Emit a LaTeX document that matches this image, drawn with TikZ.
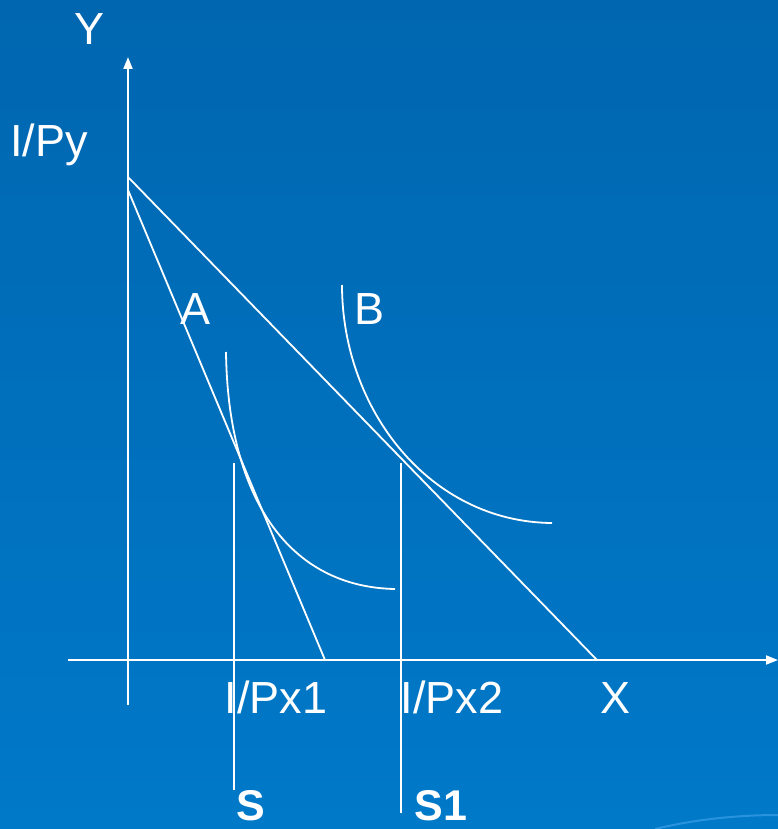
\documentclass[tikz,border=0pt]{standalone}
\usepackage{fontspec}
\setmainfont{Liberation Sans}
\usetikzlibrary{arrows.meta, positioning, calc}
\definecolor{slTop}{HTML}{0066B0}
\definecolor{slBot}{HTML}{0079C9}
\definecolor{slArc}{HTML}{2A93DE}
\tikzset{
  axis/.style={draw=white, line width=1.8pt, -{Triangle[length=12pt, width=9pt]}},
  budget/.style={draw=white, line width=1.8pt},
  icurve/.style={draw=white, line width=1.8pt},
  guide/.style={draw=white, line width=1.8pt},
  lbl/.style={text=white, font=\fontsize{45}{50}\selectfont, inner sep=0pt, anchor=base},
  blbl/.style={lbl, font=\fontsize{43}{48}\selectfont\bfseries},
}
\begin{document}
\begin{tikzpicture}[x=1pt, y=-1pt]
  % slide background
  \useasboundingbox (0,0) rectangle (778,829);
  \shade[top color=slTop, bottom color=slBot] (0,0) rectangle (778,829);
  \draw[slArc, line width=2pt] (655,829) .. controls (700,818) and (745,815) .. (778,815);

  % axes
  \coordinate (ybot) at (128,705);
  \coordinate (ytop) at (128,57);
  \coordinate (xleft) at (68,660);
  \coordinate (xright) at (778,660);
  \draw[axis] (ybot) -- (ytop);
  \draw[axis] (xleft) -- (xright);

  % budget lines
  \coordinate (py1) at (128,177);
  \coordinate (py2) at (128,190);
  \coordinate (px2) at (597,660);
  \coordinate (px1) at (325,660);
  \draw[budget] (py1) -- (px2);
  \draw[budget] (py2) -- (px1);

  % indifference curves
  \coordinate (a0) at (226,352);
  \coordinate (a1) at (395,589);
  \coordinate (b0) at (342,285);
  \coordinate (b1) at (552,523);
  \draw[icurve] (a0) .. controls (228,500) and (290,587) .. (a1);
  \draw[icurve] (b0) .. controls (342,410) and (430,522) .. (b1);

  % quantity guides
  \coordinate (s0) at (234,463);
  \coordinate (s1) at (234,790);
  \coordinate (t0) at (401,463);
  \coordinate (t1) at (401,813);
  \draw[guide] (s0) -- (s1);
  \draw[guide] (t0) -- (t1);

  % labels
  \node[lbl] (ylab) at (90,45) {Y};
  \node[lbl, anchor=base west] (pylab) at (10,157) {I/Py};
  \node[lbl] (alab) at (196,324) {A};
  \node[lbl] (blab) at (370,324) {B};
  \node[lbl] (px1lab) at (276,713) {I/Px1};
  \node[lbl] (px2lab) at (452,713) {I/Px2};
  \node[lbl] (xlab) at (615,713) {X};
  \node[blbl] (slab) at (251,820) {S};
  \node[blbl] (s1lab) at (441,820) {S1};
\end{tikzpicture}
\end{document}
